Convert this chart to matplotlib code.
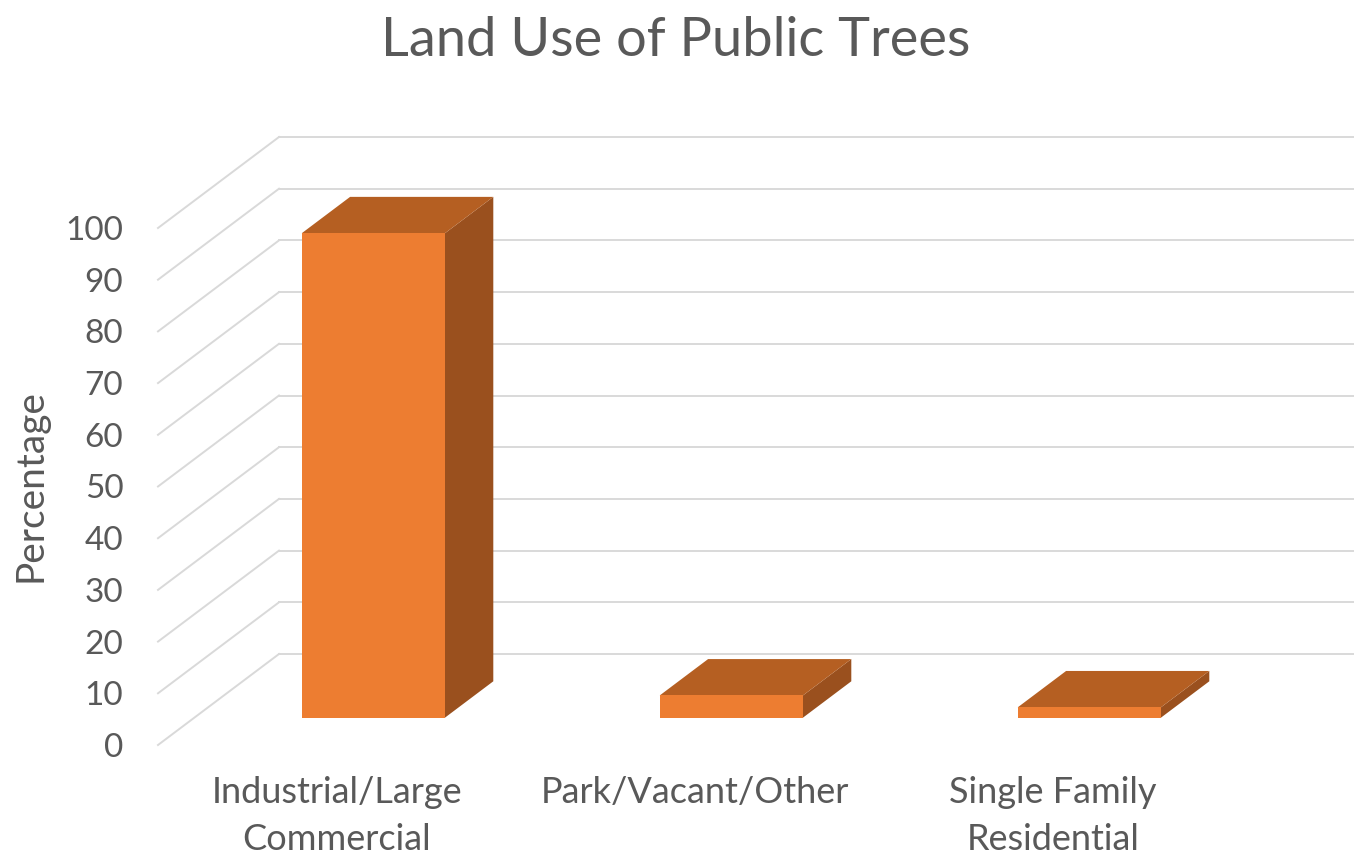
import matplotlib.pyplot as plt
from matplotlib.patches import Polygon

categories = ["Industrial/Large\nCommercial", "Park/Vacant/Other", "Single Family\nResidential"]
percentages = [93.7, 4.3, 2.0]
y_ticks = list(range(0, 101, 10))

# oblique 3-D look (Excel style): offset of the back wall, in data units
DEPTH_X = 121 / 358
DEPTH_Y = 91 / 5.17
BAR_W = 0.4
D_FRONT, D_BACK = 0.3, 0.7

FRONT = "#ED7D31"
TOP = "#B55F22"
SIDE = "#9A501E"
GRID = "#D9D9D9"
TEXT = "#595959"

plt.rcParams["font.family"] = ["Lato", "DejaVu Sans"]

W, H = 1359, 859
fig = plt.figure(figsize=(W / 100, H / 100), dpi=100)
ax = fig.add_axes([158 / W, (H - 745) / H, (1353 - 158) / W, (745 - 137) / H])
ax.set_xlim(0, len(categories) + DEPTH_X)
ax.set_ylim(0, 100 + DEPTH_Y)

# side wall and back wall gridlines
for v in y_ticks:
    ax.plot([0, DEPTH_X], [v, v + DEPTH_Y], color=GRID, lw=1.4, zorder=1, clip_on=False)
    ax.plot([DEPTH_X, len(categories) + DEPTH_X], [v + DEPTH_Y] * 2,
            color=GRID, lw=1.4, zorder=1, clip_on=False)

# 3-D bars: front face, top and right side
for i, v in enumerate(percentages):
    x0 = i + (1 - BAR_W) / 2
    x1 = x0 + BAR_W
    fx0, fx1, fy = x0 + D_FRONT * DEPTH_X, x1 + D_FRONT * DEPTH_X, D_FRONT * DEPTH_Y
    bx0, bx1, by = x0 + D_BACK * DEPTH_X, x1 + D_BACK * DEPTH_X, D_BACK * DEPTH_Y
    front = [(fx0, fy), (fx1, fy), (fx1, fy + v), (fx0, fy + v)]
    top = [(fx0, fy + v), (fx1, fy + v), (bx1, by + v), (bx0, by + v)]
    side = [(fx1, fy), (bx1, by), (bx1, by + v), (fx1, fy + v)]
    ax.add_patch(Polygon(side, closed=True, facecolor=SIDE, edgecolor="none", zorder=3))
    ax.add_patch(Polygon(top, closed=True, facecolor=TOP, edgecolor="none", zorder=3))
    ax.add_patch(Polygon(front, closed=True, facecolor=FRONT, edgecolor="none", zorder=4))

ax.set_yticks(y_ticks)
ax.set_yticklabels([str(t) for t in y_ticks])
ax.set_xticks([i + 0.5 for i in range(len(categories))])
ax.set_xticklabels(categories, linespacing=1.55)
ax.tick_params(axis="y", length=0, pad=25, labelsize=24, labelcolor=TEXT)
ax.tick_params(axis="x", length=0, pad=22, labelsize=26, labelcolor=TEXT)
for s in ax.spines.values():
    s.set_visible(False)

fig.text(676 / W, 1 - 40 / H, "Land Use of Public Trees", ha="center", va="center",
         fontsize=39, color=TEXT)
fig.text(30 / W, 1 - 486 / H, "Percentage", rotation=90, ha="center", va="center",
         fontsize=28, color=TEXT)

fig.savefig("out.png", dpi=100)
